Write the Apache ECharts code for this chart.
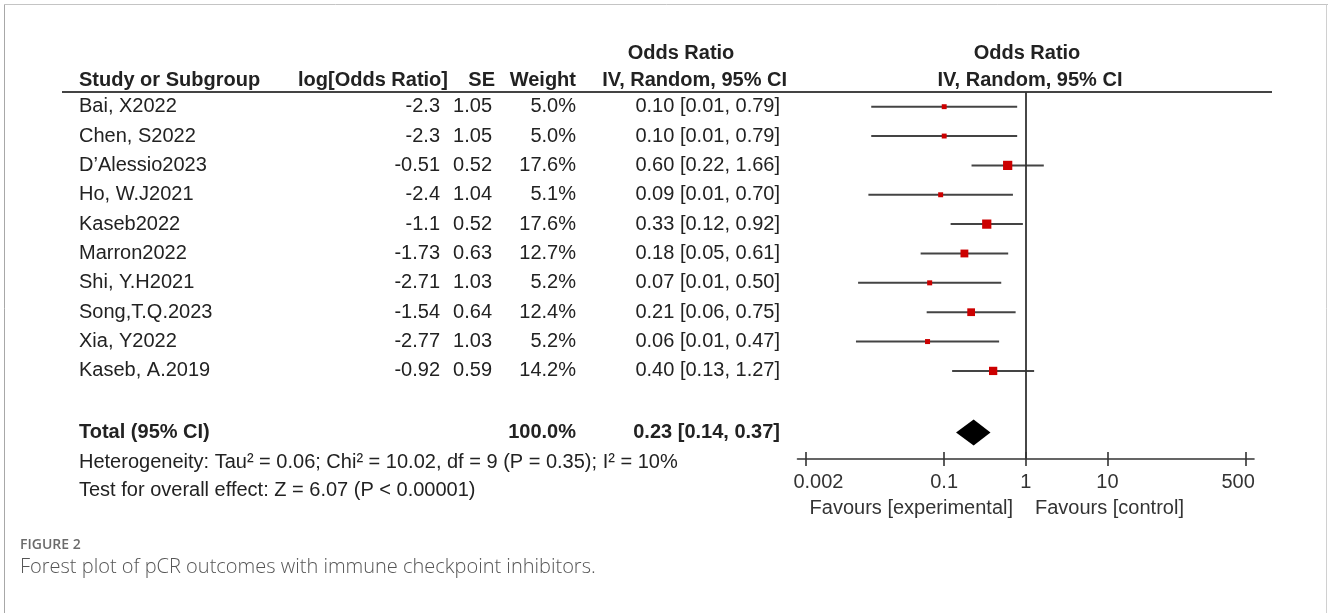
<!DOCTYPE html>
<html><head><meta charset="utf-8">
<script src="https://cdn.jsdelivr.net/npm/echarts@6/dist/echarts.min.js"></script>
<style>html,body{margin:0;padding:0;background:#fff}#c{width:1328px;height:613px}</style>
</head><body><div id="c"></div>
<script>
// ---- data ----
const studies = ["Bai, X2022","Chen, S2022","D\u2019Alessio2023","Ho, W.J2021","Kaseb2022","Marron2022","Shi, Y.H2021","Song,T.Q.2023","Xia, Y2022","Kaseb, A.2019"];
const logOR = [-2.3,-2.3,-0.51,-2.4,-1.1,-1.73,-2.71,-1.54,-2.77,-0.92];
const se = [1.05,1.05,0.52,1.04,0.52,0.63,1.03,0.64,1.03,0.59];
const weight = [5.0,5.0,17.6,5.1,17.6,12.7,5.2,12.4,5.2,14.2];
const orText = ["0.10 [0.01, 0.79]","0.10 [0.01, 0.79]","0.60 [0.22, 1.66]","0.09 [0.01, 0.70]","0.33 [0.12, 0.92]","0.18 [0.05, 0.61]","0.07 [0.01, 0.50]","0.21 [0.06, 0.75]","0.06 [0.01, 0.47]","0.40 [0.13, 1.27]"];
const totalOR = 0.23, totalLow = 0.14, totalHigh = 0.37, totalWeight = 100.0;
const totalText = "0.23 [0.14, 0.37]";
const tickValues = [0.002, 0.1, 1, 10, 500];
const tickLabels = ["0.002","0.1","1","10","500"];
const heterogeneity = "Heterogeneity: Tau\u00b2 = 0.06; Chi\u00b2 = 10.02, df = 9 (P = 0.35); I\u00b2 = 10%";
const overallTest = "Test for overall effect: Z = 6.07 (P < 0.00001)";

// ---- layout ----
const FONT = "'Liberation Sans', Arial, sans-serif";
const FS = 20;
const TXT = '#222';
const TOTAL_ROW = 11.1;
const colName = 79, colLor = 440, colSe = 492, colW = 576, colCi = 780;

const chart = echarts.init(document.getElementById('c'), null, {renderer: 'canvas'});

const studyData = studies.map((s, i) => [
  i,
  Math.exp(logOR[i] - 1.96 * se[i]),
  Math.exp(logOR[i]),
  Math.exp(logOR[i] + 1.96 * se[i]),
  weight[i]
]);
const tableData = studies.map((s, i) => [1, i]).concat([[1, TOTAL_ROW]]);

function txt(x, y, text, align, bold) {
  return {type: 'text', x: x, y: y, style: {text: text, fill: TXT, font: (bold ? 'bold ' : '') + FS + 'px ' + FONT, align: align, verticalAlign: 'middle'}};
}

const option = {
  animation: false,
  backgroundColor: '#fff',
  grid: {left: 797.5, top: 92, width: 456.5, height: 367, containLabel: false},
  xAxis: [{
    type: 'log', logBase: 10, min: 0.0016, max: 625, position: 'bottom',
    axisLine: {show: true, onZero: false, lineStyle: {color: '#333', width: 1.6}},
    axisTick: {show: true, customValues: tickValues, length: 7, lineStyle: {color: '#333', width: 1.6}},
    axisLabel: {
      show: true, customValues: tickValues, margin: 13, color: '#333', fontSize: FS, fontFamily: FONT,
      formatter: function (v) {
        let k = 0, best = 1e9;
        tickValues.forEach((t, j) => { const d = Math.abs(Math.log(t) - Math.log(v)); if (d < best) { best = d; k = j; } });
        if (k === 0) return '{l|' + tickLabels[k] + '}';
        if (k === tickValues.length - 1) return '{r|' + tickLabels[k] + '}';
        return tickLabels[k];
      },
      rich: {
        l: {padding: [0, 0, 0, 26], color: '#333', fontSize: FS, fontFamily: FONT},
        r: {padding: [0, 16, 0, 0], color: '#333', fontSize: FS, fontFamily: FONT}
      }
    },
    splitLine: {show: false}
  }, {
    type: 'log', logBase: 10, min: 0.0016, max: 625, position: 'bottom',
    axisLine: {show: false, onZero: false},
    axisTick: {show: true, inside: true, customValues: tickValues, length: 7, lineStyle: {color: '#333', width: 1.6}},
    axisLabel: {show: false},
    splitLine: {show: false}
  }],
  yAxis: {type: 'value', inverse: true, min: -0.5, max: 12, show: false},
  series: [{
    name: 'studies', type: 'custom', xAxisIndex: 0, yAxisIndex: 0,
    encode: {x: [1, 2, 3], y: 0},
    data: studyData,
    renderItem: function (params, api) {
      const i = api.value(0);
      const pLo = api.coord([api.value(1), i]);
      const pE = api.coord([api.value(2), i]);
      const pHi = api.coord([api.value(3), i]);
      const side = 2.2 * Math.sqrt(api.value(4));
      return {type: 'group', children: [
        {type: 'line', shape: {x1: pLo[0], y1: pLo[1], x2: pHi[0], y2: pHi[1]}, style: {stroke: '#444', lineWidth: 2}},
        {type: 'rect', shape: {x: pE[0] - side / 2, y: pE[1] - side / 2, width: side, height: side}, style: {fill: '#cc0000'}}
      ]};
    },
    markLine: {
      silent: true, symbol: 'none', label: {show: false},
      lineStyle: {color: '#333', width: 1.8, type: 'solid'},
      data: [{xAxis: 1}]
    }
  }, {
    name: 'total', type: 'custom', xAxisIndex: 0, yAxisIndex: 0,
    encode: {x: [1, 2, 3], y: 0},
    data: [[TOTAL_ROW, totalLow, totalOR, totalHigh]],
    renderItem: function (params, api) {
      const i = api.value(0);
      const pLo = api.coord([api.value(1), i]);
      const pE = api.coord([api.value(2), i]);
      const pHi = api.coord([api.value(3), i]);
      const h = 13;
      return {type: 'polygon', shape: {points: [[pLo[0], pLo[1]], [pE[0], pE[1] - h], [pHi[0], pHi[1]], [pE[0], pE[1] + h]]}, style: {fill: '#000'}};
    }
  }, {
    name: 'table', type: 'custom', xAxisIndex: 0, yAxisIndex: 0, clip: false,
    encode: {x: 0, y: 1},
    data: tableData,
    renderItem: function (params, api) {
      const i = api.value(1);
      const y = api.coord([1, i])[1];
      if (i === TOTAL_ROW) {
        return {type: 'group', children: [
          txt(colName, y, 'Total (95% CI)', 'left', true),
          txt(colW, y, totalWeight.toFixed(1) + '%', 'right', true),
          txt(colCi, y, totalText, 'right', true)
        ]};
      }
      return {type: 'group', children: [
        txt(colName, y, studies[i], 'left'),
        txt(colLor, y, String(logOR[i]), 'right'),
        txt(colSe, y, se[i].toFixed(2), 'right'),
        txt(colW, y, weight[i].toFixed(1) + '%', 'right'),
        txt(colCi, y, orText[i], 'right')
      ]};
    }
  }],
  graphic: {elements: [
    {type: 'line', shape: {x1: 4.5, y1: 4.5, x2: 1328, y2: 4.5}, style: {stroke: '#c4c4c4', lineWidth: 1}},
    {type: 'line', shape: {x1: 4.5, y1: 4.5, x2: 4.5, y2: 613}, style: {stroke: '#a8a8a8', lineWidth: 1}},
    {type: 'line', shape: {x1: 1326.5, y1: 4.5, x2: 1326.5, y2: 613}, style: {stroke: '#d0d0d0', lineWidth: 1}},
    {type: 'line', shape: {x1: 62, y1: 92, x2: 1272, y2: 92}, style: {stroke: '#444', lineWidth: 2}},
    txt(681, 53, 'Odds Ratio', 'center', true),
    txt(1027, 53, 'Odds Ratio', 'center', true),
    txt(colName, 80, 'Study or Subgroup', 'left', true),
    txt(448, 80, 'log[Odds Ratio]', 'right', true),
    txt(495, 80, 'SE', 'right', true),
    txt(576, 80, 'Weight', 'right', true),
    txt(787, 80, 'IV, Random, 95% CI', 'right', true),
    txt(1030, 80, 'IV, Random, 95% CI', 'center', true),
    txt(colName, 462, heterogeneity, 'left'),
    txt(colName, 490, overallTest, 'left'),
    {type: 'text', x: 1013, y: 508, style: {text: 'Favours [experimental]', fill: '#333', font: FS + 'px ' + FONT, align: 'right', verticalAlign: 'middle'}},
    {type: 'text', x: 1035, y: 508, style: {text: 'Favours [control]', fill: '#333', font: FS + 'px ' + FONT, align: 'left', verticalAlign: 'middle'}},
    {type: 'text', x: 20, y: 545, style: {text: 'FIGURE 2', fill: '#6b6b6b', font: "600 14px 'Open Sans', sans-serif", align: 'left', verticalAlign: 'middle'}},
    {type: 'text', x: 20, y: 567, style: {text: 'Forest plot of pCR outcomes with immune checkpoint inhibitors.', fill: '#555', font: "300 20px 'Open Sans', sans-serif", align: 'left', verticalAlign: 'middle'}}
  ]}
};
chart.setOption(option);
</script>
</body></html>
